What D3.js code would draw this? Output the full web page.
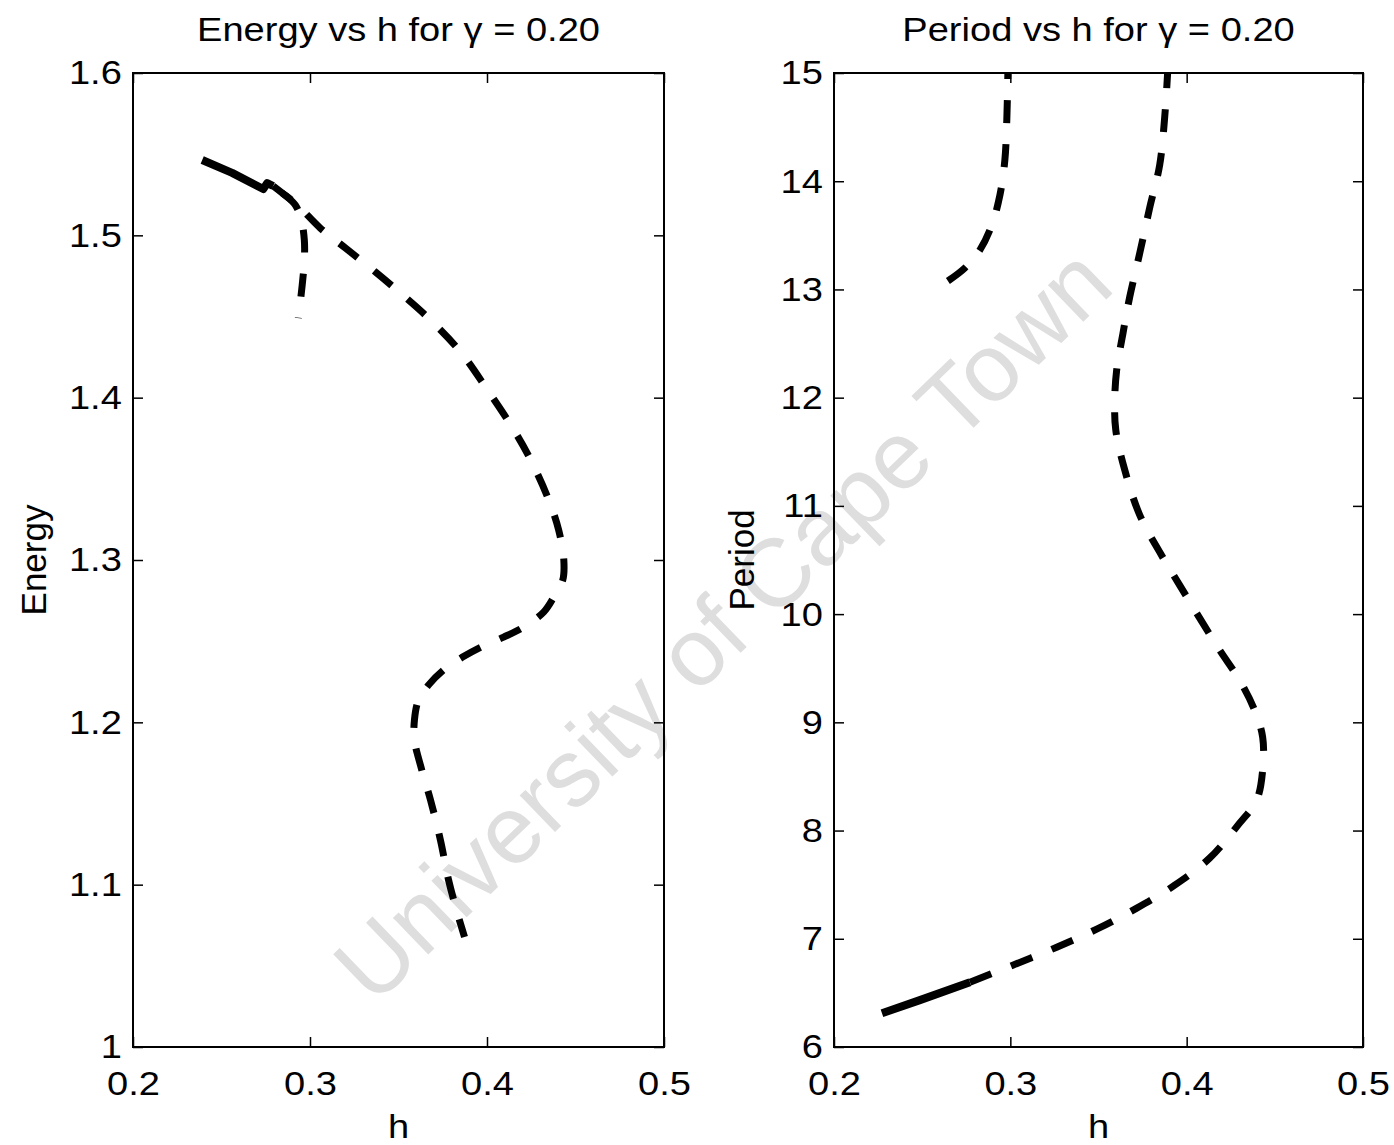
<!DOCTYPE html>
<html>
<head>
<meta charset="utf-8">
<script src="https://cdn.jsdelivr.net/npm/d3@7"></script>
<style>
  body { margin: 0; background: #fff; }
  svg { display: block; font-family: 'Liberation Sans', Arial, sans-serif; }
</style>
</head>
<body>
<div id="chart"></div>
<script>
// Energy panel: stable (solid) piece, unstable (dashed) main curve, short dashed branch
const energySolid = [
  [0.2391, 1.5464], [0.2560, 1.5385], [0.2736, 1.5285], [0.2758, 1.5322], [0.2792, 1.5304],
];
const energyDashed = [
  [0.2792, 1.5304], [0.2843, 1.5261], [0.2928, 1.5187], [0.3058, 1.5045], [0.3200, 1.4922],
  [0.3370, 1.4774], [0.3511, 1.4644], [0.3681, 1.4478], [0.3851, 1.4281], [0.4003, 1.4047],
  [0.4145, 1.3813], [0.4247, 1.3616], [0.4349, 1.3369], [0.4405, 1.3184], [0.4434, 1.3000],
  [0.4428, 1.2876], [0.4377, 1.2771], [0.4320, 1.2679], [0.4207, 1.2587], [0.4094, 1.2525],
  [0.3964, 1.2463], [0.3862, 1.2402], [0.3754, 1.2322], [0.3669, 1.2229], [0.3613, 1.2137],
  [0.3590, 1.2014], [0.3590, 1.1890], [0.3624, 1.1736], [0.3681, 1.1521], [0.3737, 1.1274],
  [0.3783, 1.1028], [0.3828, 1.0843], [0.3873, 1.0677],
];
const energyBranch = [
  [0.2843, 1.5261], [0.2917, 1.5187], [0.2951, 1.5094], [0.2968, 1.4971], [0.2968, 1.4848],
  [0.2956, 1.4694], [0.2934, 1.4490],
];

// Period panel
const periodSolid = [
  [0.2272, 6.312], [0.2487, 6.433], [0.2771, 6.599],
];
const periodDashed = [
  [0.2771, 6.599], [0.3014, 6.756], [0.3263, 6.922], [0.3490, 7.089], [0.3717, 7.283],
  [0.3932, 7.495], [0.4130, 7.745], [0.4300, 8.068], [0.4397, 8.281], [0.4431, 8.558],
  [0.4431, 8.863], [0.4385, 9.113], [0.4300, 9.390], [0.4187, 9.667], [0.4074, 9.963],
  [0.3960, 10.268], [0.3847, 10.573], [0.3734, 10.915], [0.3649, 11.331], [0.3598, 11.701],
  [0.3592, 11.978], [0.3603, 12.255], [0.3637, 12.579], [0.3677, 12.930], [0.3734, 13.336],
  [0.3790, 13.752], [0.3847, 14.150], [0.3875, 14.584], [0.3892, 15.0],
];
const periodUpper = [
  [0.2646, 13.078], [0.2742, 13.198], [0.2827, 13.364], [0.2895, 13.595], [0.2941, 13.872],
  [0.2969, 14.196], [0.2980, 14.566], [0.2986, 15.0],
];

const hTicks = [0.2, 0.3, 0.4, 0.5];
const energyTicks = [1, 1.1, 1.2, 1.3, 1.4, 1.5, 1.6];
const periodTicks = [6, 7, 8, 9, 10, 11, 12, 13, 14, 15];

const width = 1394;
const height = 1145;
const plotTop = 73;
const plotBottom = 1047;
const stretch = 'scale(1.12,1)'; // the scanned type is a bit wide

const svg = d3.select('#chart')
  .append('svg')
  .attr('width', width)
  .attr('height', height);

// watermark goes underneath everything
svg.append('text')
  .attr('transform', 'translate(722,624) rotate(-44)')
  .attr('text-anchor', 'middle')
  .attr('dy', '0.35em')
  .style('font-size', '96px')
  .style('fill', '#dedede')
  .text('University of Cape Town');

const fmt = (d) => String(+d.toFixed(2));

function drawPanel(p) {
  const x = d3.scaleLinear().domain([0.2, 0.5]).range([p.left, p.right]);
  const y = d3.scaleLinear().domain(p.yDomain).range([plotBottom, plotTop]);
  const g = svg.append('g');

  g.append('rect')
    .attr('x', p.left)
    .attr('y', plotTop)
    .attr('width', p.right - p.left)
    .attr('height', plotBottom - plotTop)
    .attr('fill', 'none')
    .attr('stroke', '#000')
    .attr('stroke-width', 2);

  const styleAxis = (sel) => {
    sel.select('.domain').remove();
    sel.selectAll('line').attr('stroke', '#000').attr('stroke-width', 1.5);
    sel.selectAll('text')
      .style('font-size', '34px')
      .attr('fill', '#000')
      .attr('transform', stretch);
  };

  g.append('g')
    .attr('transform', `translate(0,${plotBottom})`)
    .call(d3.axisBottom(x).tickValues(hTicks).tickFormat(fmt).tickSize(-10).tickPadding(24))
    .call(styleAxis);
  g.append('g')
    .attr('transform', `translate(0,${plotTop})`)
    .call(d3.axisTop(x).tickValues(hTicks).tickFormat('').tickSize(-10))
    .call(styleAxis);
  g.append('g')
    .attr('transform', `translate(${p.left},0)`)
    .call(d3.axisLeft(y).tickValues(p.yTicks).tickFormat(fmt).tickSize(-10).tickPadding(10))
    .call(styleAxis);
  g.append('g')
    .attr('transform', `translate(${p.right},0)`)
    .call(d3.axisRight(y).tickValues(p.yTicks).tickFormat('').tickSize(-10))
    .call(styleAxis);

  const smooth = d3.line()
    .x((d) => x(d[0]))
    .y((d) => y(d[1]))
    .curve(d3.curveCatmullRom);
  const straight = d3.line()
    .x((d) => x(d[0]))
    .y((d) => y(d[1]));

  p.series.forEach((s) => {
    g.append('path')
      .datum(s.values)
      .attr('d', s.dashed ? smooth : straight)
      .attr('fill', 'none')
      .attr('stroke', '#000')
      .attr('stroke-width', s.dashed ? 7 : 8)
      .attr('stroke-linejoin', 'round')
      .attr('stroke-dasharray', s.dashed ? '23,21' : null);
  });

  const cx = (p.left + p.right) / 2;
  g.append('text')
    .attr('transform', `translate(${cx},41) ${stretch}`)
    .attr('text-anchor', 'middle')
    .style('font-size', '34px')
    .text(p.title);

  g.append('text')
    .attr('transform', `translate(${cx},1138) ${stretch}`)
    .attr('text-anchor', 'middle')
    .style('font-size', '34px')
    .text('h');

  g.append('text')
    .attr('transform', `translate(${p.labelX},${(plotTop + plotBottom) / 2}) rotate(-90)`)
    .attr('text-anchor', 'middle')
    .attr('dy', '0.35em')
    .style('font-size', '35px')
    .text(p.yLabel);
}

drawPanel({
  left: 133,
  right: 664,
  yDomain: [1, 1.6],
  yTicks: energyTicks,
  title: 'Energy vs h for γ = 0.20',
  yLabel: 'Energy',
  labelX: 34,
  series: [
    { values: energySolid, dashed: false },
    { values: energyDashed, dashed: true },
    { values: energyBranch, dashed: true },
  ],
});

drawPanel({
  left: 834,
  right: 1363,
  yDomain: [6, 15],
  yTicks: periodTicks,
  title: 'Period vs h for γ = 0.20',
  yLabel: 'Period',
  labelX: 742,
  series: [
    { values: periodSolid, dashed: false },
    { values: periodDashed, dashed: true },
    { values: periodUpper, dashed: true },
  ],
});
</script>
</body>
</html>
